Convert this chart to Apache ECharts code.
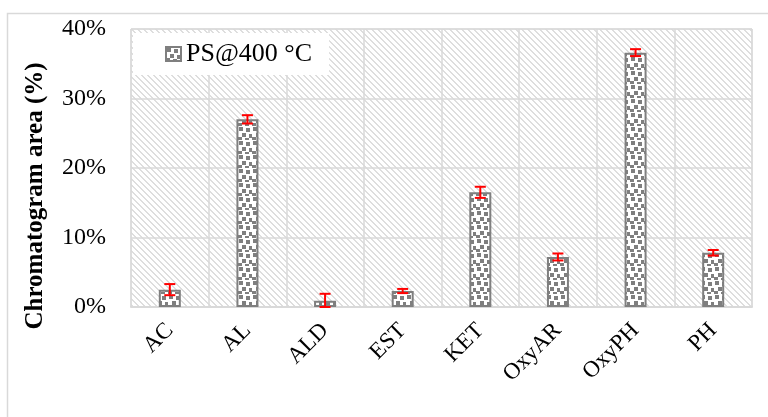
<!DOCTYPE html>
<html>
<head>
<meta charset="utf-8">
<script src="https://cdn.jsdelivr.net/npm/echarts@6/dist/echarts.min.js"></script>
<style>html,body{margin:0;padding:0;background:#fff;}#c{width:768px;height:417px;}</style>
</head>
<body>
<div id="c"></div>
<script>
const categories = ['AC', 'AL', 'ALD', 'EST', 'KET', 'OxyAR', 'OxyPH', 'PH'];
const values = [2.5, 27.0, 0.9, 2.3, 16.5, 7.2, 36.6, 7.8];
const errors = [0.8, 0.6, 1.0, 0.3, 0.8, 0.5, 0.5, 0.4];
const seriesName = 'PS@400 °C';
const yTicks = [0, 10, 20, 30, 40];

function makeCanvas(w, h, fn) {
  const c = document.createElement('canvas');
  c.width = w; c.height = h;
  const ctx = c.getContext('2d');
  fn(ctx);
  return c;
}
const hatch = makeCanvas(6, 6, ctx => {
  ctx.fillStyle = '#ffffff'; ctx.fillRect(0, 0, 6, 6);
  ctx.fillStyle = '#dedede';
  for (let i = 0; i < 6; i++) { ctx.fillRect(i, i, 1, 1); ctx.fillRect((i + 1) % 6, i, 1, 1); }
});
const dots = makeCanvas(14, 14, ctx => {
  ctx.fillStyle = '#ffffff'; ctx.fillRect(0, 0, 14, 14);
  ctx.fillStyle = '#7f7f7f';
  [[1,1],[8,2],[4,7],[11,8],[0,11],[7,12]].forEach(p => ctx.fillRect(p[0], p[1], 4, 4));
});

const errData = categories.map((c, i) => [i, Math.max(0, values[i] - errors[i]), values[i] + errors[i]]);

const chart = echarts.init(document.getElementById('c'), null, {renderer: 'canvas'});
chart.setOption({
  animation: false,
  graphic: [
    {type: 'rect', z: -10, shape: {x: 7.5, y: 13.5, width: 800, height: 500}, style: {fill: 'none', stroke: '#d9d9d9', lineWidth: 1.5}},
    {type: 'text', x: 36, y: 196, rotation: Math.PI / 2,
     style: {text: 'Chromatogram area (%)', font: 'bold 25px "Liberation Serif"', fill: '#000', align: 'center', verticalAlign: 'middle'}}
  ],
  grid: {left: 131, right: 16, top: 29, bottom: 110, show: true, backgroundColor: {image: hatch, repeat: 'repeat'}, borderColor: '#d9d9d9', borderWidth: 1},
  legend: {
    left: 133, top: 33, backgroundColor: '#fff', padding: [8, 17, 8, 32],
    itemWidth: 15, itemHeight: 14, icon: 'rect',
    textStyle: {fontSize: 26, fontFamily: 'Liberation Serif', color: '#000'},
    data: [seriesName]
  },
  xAxis: {
    type: 'category', data: categories,
    axisLine: {lineStyle: {color: '#d9d9d9', width: 2}},
    axisTick: {show: false},
    splitLine: {show: true, lineStyle: {color: '#d9d9d9', width: 1.5}},
    axisLabel: {rotate: 45, margin: 20, fontSize: 23, fontFamily: 'Liberation Serif', color: '#000'}
  },
  yAxis: {
    type: 'value', min: yTicks[0], max: yTicks[yTicks.length - 1], interval: 10,
    axisLine: {show: false}, axisTick: {show: false},
    splitLine: {lineStyle: {color: '#d9d9d9', width: 1.5}},
    axisLabel: {formatter: '{value}%', margin: 25, fontSize: 24, fontFamily: 'Liberation Serif', color: '#000'}
  },
  series: [
    {
      name: seriesName, type: 'bar', data: values, barWidth: 22,
      itemStyle: {color: {image: dots, repeat: 'repeat'}, borderColor: '#7f7f7f', borderWidth: 2}
    },
    {
      type: 'custom', data: errData, z: 10,
      renderItem: function (params, api) {
        const x = api.value(0);
        const lo = api.coord([x, api.value(1)]);
        const hi = api.coord([x, api.value(2)]);
        const w = 5.5;
        const st = {stroke: '#ff0000', lineWidth: 2};
        return {type: 'group', children: [
          {type: 'line', shape: {x1: hi[0], y1: hi[1], x2: lo[0], y2: lo[1]}, style: st},
          {type: 'line', shape: {x1: hi[0] - w, y1: hi[1], x2: hi[0] + w, y2: hi[1]}, style: st},
          {type: 'line', shape: {x1: lo[0] - w, y1: lo[1], x2: lo[0] + w, y2: lo[1]}, style: st}
        ]};
      }
    }
  ]
});
</script>
</body>
</html>
